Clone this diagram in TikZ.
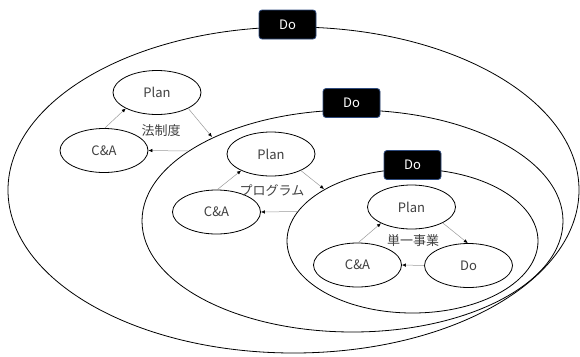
\documentclass[tikz,border=0pt]{standalone}
\usepackage{fontspec}
\setmainfont{Noto Sans CJK JP}
\usetikzlibrary{shapes.geometric,arrows.meta}
\definecolor{txtgray}{HTML}{404040}
\definecolor{boxedge}{HTML}{2E4A7D}
\definecolor{linkgray}{HTML}{9A9A9A}
\tikzset{
  bigell/.style={draw=black,line width=0.8pt,ellipse,inner sep=0pt},
  smallell/.style={draw=black,line width=0.8pt,ellipse,inner sep=0pt,minimum width=88pt,minimum height=44pt,fill=white,text=txtgray,font=\fontsize{13}{15}\selectfont},
  dobox/.style={fill=black,draw=boxedge,line width=0.8pt,rounded corners=3pt,minimum width=57pt,minimum height=29pt,inner sep=0pt,text=white,font=\fontsize{13}{15}\selectfont},
  lbl/.style={text=txtgray,font=\fontsize{13}{15}\selectfont,inner sep=0pt},
  link/.style={draw=linkgray,line width=0.5pt,-{Latex[length=4pt,width=3.5pt,color=black]}}
}
\begin{document}
\begin{tikzpicture}[x=1pt,y=-1pt]
\useasboundingbox (0,0) rectangle (580,356);
% big ellipses
\node[bigell,minimum width=571pt,minimum height=326pt] (outer) at (293.5,190) {};
\node[bigell,minimum width=421pt,minimum height=222pt] (middle) at (352.5,221) {};
\node[bigell,minimum width=251pt,minimum height=144pt] (inner) at (412.5,241) {};
% level 1
\node[smallell] (p1) at (157,92.5) {Plan};
\node[smallell] (c1) at (104,150.5) {C\&A};
\node[lbl] (l1) at (161,131) {法制度};
\coordinate (m1) at (212,137);
\coordinate (m2) at (188,151);
\draw[link] (c1.88) -- (p1.-153);
\draw[link] (p1.-27) -- (m1);
\draw[link] (m2) -- (c1.east);
% level 2
\node[smallell] (p2) at (271,154) {Plan};
\node[smallell] (c2) at (216.5,212) {C\&A};
\node[lbl] (l2) at (272,190) {プログラム};
\coordinate (i1) at (324,189);
\coordinate (i2) at (297,211.5);
\draw[link] (c2.88) -- (p2.-151);
\draw[link] (p2.-29) -- (i1);
\draw[link] (i2) -- (c2.east);
% level 3
\node[smallell] (p3) at (411.5,207) {Plan};
\node[smallell] (c3) at (357.5,265) {C\&A};
\node[smallell] (d3) at (468.5,265.5) {Do};
\node[lbl] (l3) at (413,241) {単一事業};
\draw[link] (c3.88) -- (p3.-152);
\draw[link] (p3.-27) -- (d3.92);
\draw[link] (d3.west) -- (c3.east);
% Do boxes
\node[dobox] (do1) at (287.5,24.5) {Do};
\node[dobox] (do2) at (351.5,103) {Do};
\node[dobox] (do3) at (412.5,165) {Do};
\end{tikzpicture}
\end{document}
